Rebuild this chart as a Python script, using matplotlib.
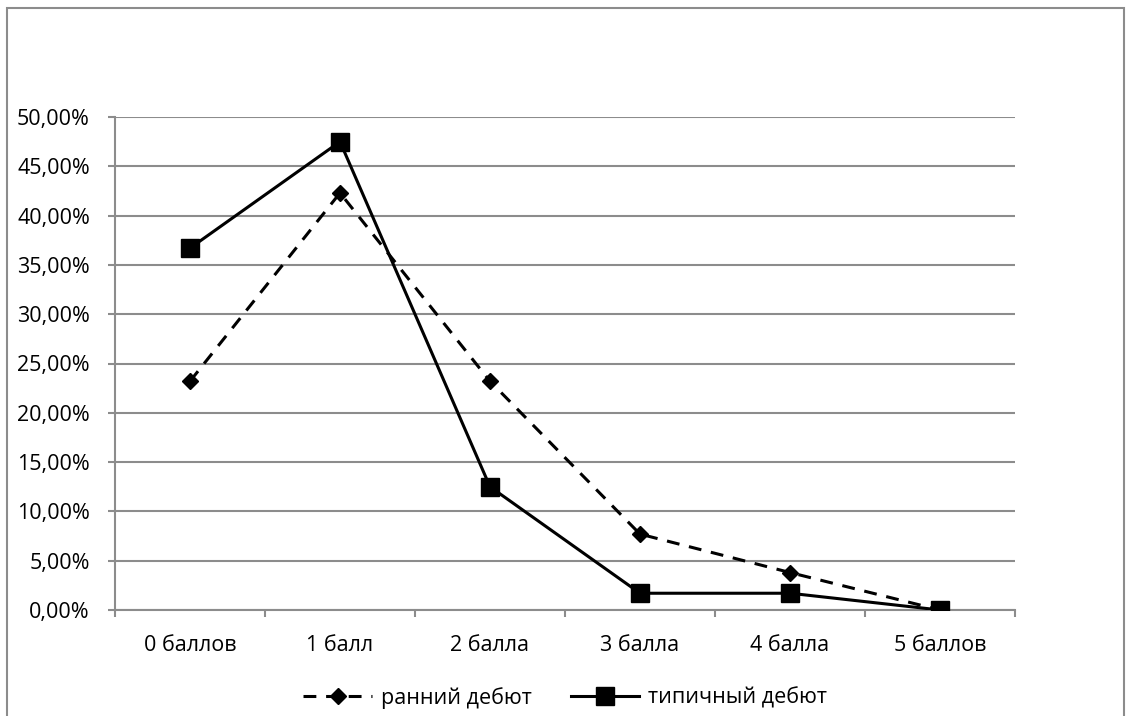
import matplotlib
matplotlib.use("Agg")
import matplotlib.pyplot as plt
from matplotlib.patches import Rectangle
from matplotlib.ticker import FuncFormatter, MultipleLocator

categories = ["0 баллов", "1 балл", "2 балла", "3 балла", "4 балла", "5 баллов"]
early_onset = [23.2, 42.3, 23.2, 7.7, 3.8, 0.0]
typical_onset = [36.7, 47.5, 12.5, 1.7, 1.7, 0.0]
series_names = ["ранний дебют", "типичный дебют"]

plt.rcParams["font.family"] = ["Open Sans", "DejaVu Sans"]
grid_color = "#8c8c8c"
font_size = 15.5

fig = plt.figure(figsize=(11.26, 7.16), dpi=100)
fig.patch.set_facecolor("white")

# chart frame around everything
fig.patches.append(Rectangle((7 / 1126, -0.05), 1117 / 1126, 1.05 - 8 / 716,
                             transform=fig.transFigure, fill=False,
                             edgecolor=grid_color, linewidth=1.5))

ax = fig.add_axes([115 / 1126, 106 / 716, 900 / 1126, 493 / 716])
x = list(range(len(categories)))

ax.plot(x, early_onset, color="black", linewidth=2.2,
        linestyle=(0, (4.2, 3.2)), marker="D", markersize=8.5,
        label=series_names[0], zorder=3)
ax.plot(x, typical_onset, color="black", linewidth=2.2, linestyle="-",
        marker="s", markersize=12.5, label=series_names[1], zorder=3)

ax.set_xlim(-0.5, len(categories) - 0.5)
ax.set_ylim(0, 50)
ax.yaxis.set_major_locator(MultipleLocator(5))
ax.yaxis.set_major_formatter(FuncFormatter(lambda v, _: f"{v:.2f}%".replace(".", ",")))
ax.set_xticks(x)
ax.set_xticklabels(categories)
ax.set_xticks([i - 0.5 for i in range(len(categories) + 1)], minor=True)

ax.grid(axis="y", color=grid_color, linewidth=1.5)
ax.set_axisbelow(True)
for side in ("top", "right"):
    ax.spines[side].set_visible(False)
for side in ("left", "bottom"):
    ax.spines[side].set_color(grid_color)
    ax.spines[side].set_linewidth(1.5)

ax.tick_params(axis="y", length=5, width=1.5, color=grid_color, pad=13,
               labelsize=font_size, labelcolor="black")
ax.tick_params(axis="x", which="major", length=0, pad=18, labelsize=font_size)
ax.tick_params(axis="x", which="minor", length=5, width=1.5, color=grid_color)

fig.legend(loc="center", bbox_to_anchor=(0.502, 1 - 698 / 716), ncol=2,
           frameon=False, fontsize=font_size, handlelength=3.2, columnspacing=1.8,
           handletextpad=0.4)

fig.savefig("out.png", dpi=100)
